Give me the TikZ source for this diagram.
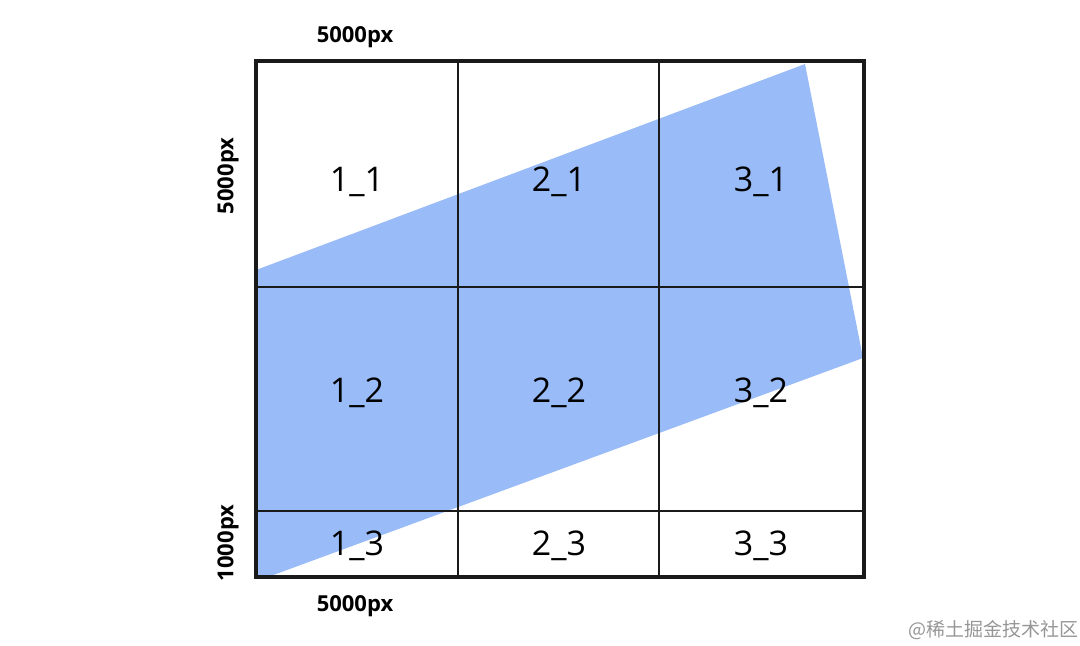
\documentclass[tikz,border=0pt]{standalone}
\usepackage{fontspec}
\setmainfont{Open Sans}
\newfontfamily\cjk{Noto Sans CJK SC}
\definecolor{tileblue}{RGB}{153,187,248}
\definecolor{gridline}{RGB}{26,26,26}
\definecolor{markgray}{RGB}{150,150,150}
\tikzset{
  cell/.style={font=\fontsize{17}{20}\selectfont},
  size/.style={font=\bfseries\fontsize{11}{13}\selectfont},
}
\begin{document}
\begin{tikzpicture}[x=0.5pt,y=-0.5pt]
  \useasboundingbox (0,0) rectangle (1080,646);
  \fill[tileblue] (256,270) -- (805,64) -- (863,358) -- (268,577) -- (256,577) -- cycle;
  \draw[gridline,line width=1pt] (458,61) -- (458,577) (659,61) -- (659,577)
    (256,287) -- (864,287) (256,511) -- (864,511);
  \draw[gridline,line width=2pt] (256,61) rectangle (864,577);
  \foreach \c/\x in {1/357,2/559,3/761}
    \foreach \r/\y in {1/182,2/393,3/546}
      \node[cell] (c\c\r) at (\x,\y) {\c\_\r};
  \node[size] (wtop) at (355,37) {5000px};
  \node[size] (wbot) at (355,606) {5000px};
  \node[size,rotate=90] (hbig) at (228,176) {5000px};
  \node[size,rotate=90] (hsmall) at (228,543) {1000px};
  \node[markgray,font=\cjk\fontsize{9.5}{11}\selectfont] (mark) at (993,630) {@稀土掘金技术社区};
\end{tikzpicture}
\end{document}
